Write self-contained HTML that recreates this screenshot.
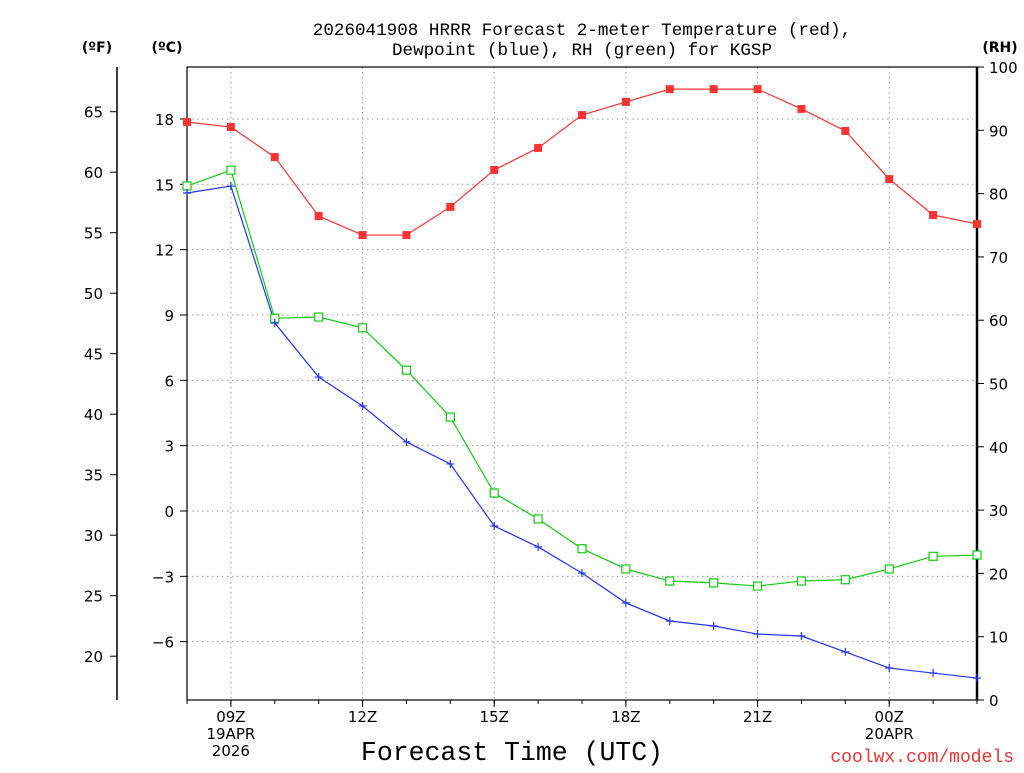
<!DOCTYPE html>
<html><head><meta charset="utf-8"><style>
body{margin:0;background:#fff;width:1024px;height:768px;overflow:hidden}
svg text{font-family:"DejaVu Sans","Liberation Sans",sans-serif;fill:#000}
svg text.mono{font-family:"Liberation Mono","DejaVu Sans Mono",monospace}
</style></head><body>
<svg id="chart" width="1024" height="768" xmlns="http://www.w3.org/2000/svg">
<g id="grid"></g>
<g id="axes"></g>
<g id="series"></g>
<text class="mono" x="582" y="35" font-size="17.6" text-anchor="middle">2026041908 HRRR Forecast 2-meter Temperature (red),</text>
<text class="mono" x="582" y="55" font-size="17.6" text-anchor="middle">Dewpoint (blue), RH (green) for KGSP</text>
<text x="97" y="52" font-size="14" font-weight="bold" text-anchor="middle">(ºF)</text>
<text x="167" y="52" font-size="14" font-weight="bold" text-anchor="middle">(ºC)</text>
<text x="1000" y="52" font-size="14" font-weight="bold" text-anchor="middle">(RH)</text>
<text class="mono" x="512" y="760" font-size="26.5" text-anchor="middle">Forecast Time (UTC)</text>
<text class="mono" x="1014" y="762" font-size="18" style="fill:#e33" text-anchor="end">coolwx.com/models</text>
</svg>
<script>
const hours=[0,1,2,3,4,5,6,7,8,9,10,11,12,13,14,15,16,17,18];
const tempC=[17.86,17.63,16.25,13.54,12.67,12.67,13.96,15.66,16.67,18.18,18.78,19.37,19.37,19.37,18.46,17.45,15.24,13.59,13.18];
const dewC=[14.6,14.92,8.63,6.15,4.82,3.17,2.16,-0.69,-1.65,-2.85,-4.22,-5.05,-5.28,-5.65,-5.74,-6.47,-7.21,-7.44,-7.67];
const rh=[81.2,83.7,60.3,60.5,58.8,52.1,44.7,32.7,28.6,23.9,20.7,18.8,18.5,18.0,18.8,19.0,20.7,22.7,22.9];
const cTicks=[-6,-3,0,3,6,9,12,15,18];
const cLabels=["−6","−3","0","3","6","9","12","15","18"];
const fTicks=[20,25,30,35,40,45,50,55,60,65];
const rhTicks=[0,10,20,30,40,50,60,70,80,90,100];
const xTickHours=[1,4,7,10,13,16];
const xTickLabels=[["09Z","19APR","2026"],["12Z"],["15Z"],["18Z"],["21Z"],["00Z","20APR"]];
const NS="http://www.w3.org/2000/svg";
const L=187,R=977,T=67,B=700;
const x=h=>L+h*(R-L)/18;
const yC=c=>511-21.78*c;
const yF=f=>yC((f-32)*5/9);
const yRH=r=>B-r*(B-T)/100;
function mk(p,tag,a){const e=document.createElementNS(NS,tag);for(const k in a)e.setAttribute(k,a[k]);p.appendChild(e);return e;}
const grid=document.getElementById('grid'),axes=document.getElementById('axes'),ser=document.getElementById('series');
cTicks.forEach((c,i)=>{
 const g=mk(grid,'line',{x1:L,x2:R,y1:yC(c),y2:yC(c),stroke:'#999','stroke-dasharray':'1.5,3.5'});
 
 
 mk(axes,'line',{x1:L-7,x2:L,y1:yC(c),y2:yC(c),stroke:'#000'});
 const t=mk(axes,'text',{x:L-13,y:yC(c)+6,'font-size':15,'text-anchor':'end'});t.textContent=cLabels[i];
 
 
});
xTickHours.forEach((h,i)=>{
 const g=mk(grid,'line',{x1:x(h),x2:x(h),y1:T,y2:B,stroke:'#999','stroke-dasharray':'1.5,3.5'});
 
 
 mk(axes,'line',{x1:x(h),x2:x(h),y1:B,y2:B+7,stroke:'#000'});
 xTickLabels[i].forEach((s,j)=>{const t=mk(axes,'text',{x:x(h),y:B+22+j*17,'font-size':15,'text-anchor':'middle'});t.textContent=s;
 
 });
});
for(let h=0;h<=18;h++)mk(axes,'line',{x1:x(h),x2:x(h),y1:B,y2:B+4,stroke:'#000'});
fTicks.forEach(f=>{
 mk(axes,'line',{x1:110,x2:117,y1:yF(f),y2:yF(f),stroke:'#000'});
 const t=mk(axes,'text',{x:103,y:yF(f)+6,'font-size':15,'text-anchor':'end'});t.textContent=f;
 
 
});
rhTicks.forEach(r=>{
 mk(axes,'line',{x1:R,x2:R+7,y1:yRH(r),y2:yRH(r),stroke:'#000'});
 const t=mk(axes,'text',{x:R+12,y:yRH(r)+6,'font-size':15});t.textContent=r;
 
 
});
mk(axes,'line',{x1:117,x2:117,y1:T,y2:B,stroke:'#000','stroke-width':1.5});
mk(axes,'rect',{x:L,y:T,width:R-L,height:B-T,fill:'none',stroke:'#000','stroke-width':1.2});
mk(axes,'line',{x1:R,x2:R,y1:T,y2:B,stroke:'#000','stroke-width':2.5});
function line(vals,yf,color,name){
 const p=mk(ser,'polyline',{points:vals.map((v,i)=>x(hours[i])+','+yf(v)).join(' '),fill:'none',stroke:color,'stroke-width':1.2});
 
 
}
line(tempC,yC,'#f33','temperature-line');
line(dewC,yC,'#23f','dewpoint-line');
line(rh,yRH,'#1c1','rh-line');
tempC.forEach((v,i)=>{const m=mk(ser,'rect',{x:x(hours[i])-4,y:yC(v)-4,width:8,height:8,fill:'#f33'});
 
 });
rh.forEach((v,i)=>{const m=mk(ser,'rect',{x:x(hours[i])-4,y:yRH(v)-4,width:8,height:8,fill:'#fff',stroke:'#1c1','stroke-width':1.2});
 
 });
dewC.forEach((v,i)=>{const X=x(hours[i]),Y=yC(v);const m=mk(ser,'path',{d:`M${X-4},${Y}H${X+4}M${X},${Y-4}V${Y+4}`,stroke:'#23f','stroke-width':1.2});
 
 });
</script>
</body></html>
